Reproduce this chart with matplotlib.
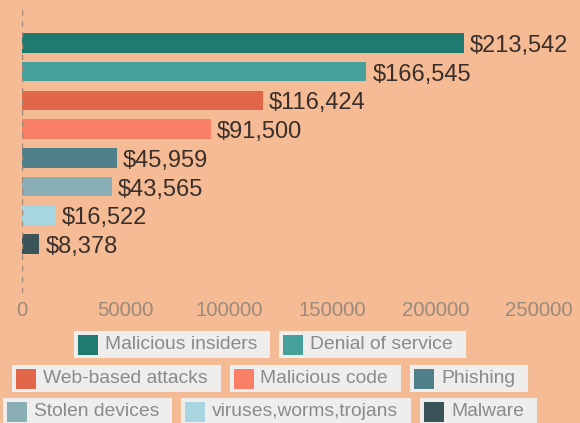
import matplotlib
matplotlib.use("Agg")
import matplotlib.pyplot as plt
from matplotlib.patches import Rectangle

categories = ["Malicious insiders", "Denial of service", "Web-based attacks",
              "Malicious code", "Phishing", "Stolen devices",
              "viruses,worms,trojans", "Malware"]
values = [213542, 166545, 116424, 91500, 45959, 43565, 16522, 8378]
colors = ["#1f7b6f", "#45a09a", "#e2664a", "#f87e66",
          "#4f7f88", "#8aaeb6", "#a8d6e0", "#3b5459"]
xticks = [0, 50000, 100000, 150000, 200000, 250000]
legend_rows = [2, 3, 3]

W, H = 580, 423
BG = "#f4bb94"
plt.rcParams["font.family"] = ["Liberation Sans", "DejaVu Sans"]

fig = plt.figure(figsize=(W / 100, H / 100), dpi=100, facecolor=BG)
ax = fig.add_axes([22 / W, (H - 293) / H, (539 - 22) / W, (293 - 8) / H])
ax.set_facecolor(BG)

ypos = list(range(len(values)))
ax.barh(ypos, values, height=0.68, color=colors)
for y, v in zip(ypos, values):
    ax.annotate(f"${v:,}", xy=(v, y), xytext=(6, -3), textcoords="offset pixels",
                va="center", ha="left", fontsize=17, color="#3a2e2a",
                annotation_clip=False)

ax.set_xlim(0, 250000)
ax.set_ylim(7 + (293 - 244) / 28.7, -(43 - 8) / 28.7)
ax.set_yticks([])
ax.set_xticks(xticks)
ax.set_xticklabels([str(t) for t in xticks], fontsize=14.7, color="#9c8a7c")
ax.tick_params(axis="x", length=0, pad=6)
for s in ax.spines.values():
    s.set_visible(False)
ax.axvline(0, color="#a08878", lw=1, ls=(0, (4, 4)))

# Legend: rows of boxed entries, centred
renderer = fig.canvas.get_renderer()
fs = 13.9
row_centers = [344.5, 378.5, 411.5]
box_h = 27
pad_l, sq, gap, pad_r, box_gap = 4, 20, 7, 13, 9
cx = 270
idx = 0
for r, n in enumerate(legend_rows):
    entries = list(range(idx, idx + n))
    idx += n
    widths = []
    for i in entries:
        t = fig.text(0, 0, categories[i], fontsize=fs)
        bb = t.get_window_extent(renderer)
        t.remove()
        widths.append(bb.width)
    boxw = [pad_l + sq + gap + w + pad_r for w in widths]
    total = sum(boxw) + box_gap * (n - 1)
    x = cx - total / 2
    yc = row_centers[r]
    for i, bw, tw in zip(entries, boxw, widths):
        fig.patches.append(Rectangle((x / W, 1 - (yc + box_h / 2) / H), bw / W, box_h / H,
                                     transform=fig.transFigure, facecolor="#efeeec",
                                     edgecolor="none"))
        fig.patches.append(Rectangle(((x + pad_l) / W, 1 - (yc + sq / 2) / H), sq / W, sq / H,
                                     transform=fig.transFigure, facecolor=colors[i],
                                     edgecolor="none"))
        fig.text((x + pad_l + sq + gap) / W, 1 - yc / H, categories[i], fontsize=fs,
                 color="#8a8a8a", va="center", ha="left")
        x += bw + box_gap

fig.savefig("out.png", dpi=100, facecolor=BG)
